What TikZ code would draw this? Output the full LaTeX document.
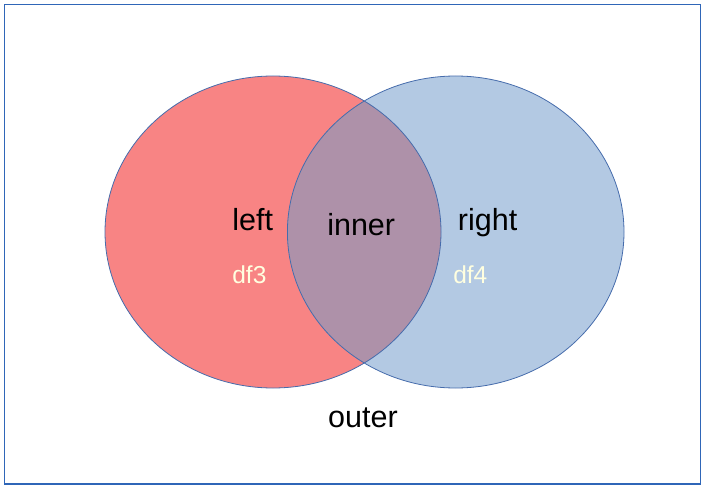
\documentclass[tikz,border=0pt]{standalone}
\usepackage{fontspec}
\setmainfont{Liberation Sans}
\definecolor{leftred}{RGB}{248,132,132}
\definecolor{rightblue}{RGB}{179,201,227}
\definecolor{innermix}{RGB}{174,145,169}
\definecolor{edgeblue}{RGB}{70,108,172}
\definecolor{framblue}{RGB}{47,102,184}
\definecolor{dfyellow}{RGB}{255,255,224}
\begin{document}
\begin{tikzpicture}[x=1pt, y=-1pt, set label/.style={anchor=base, inner sep=0pt, font=\fontsize{30.5}{30.5}\selectfont}, df label/.style={anchor=base, inner sep=0pt, text=dfyellow, font=\fontsize{24.5}{24.5}\selectfont}]
            \useasboundingbox (0,0) rectangle (706,489);
            \draw[framblue, line width=1.2pt] (4.5,4.5) rectangle (700.3,484);

              % the two sets
              \fill[leftred] (273,232) ellipse [x radius=168, y radius=156];
              \fill[rightblue] (455.7,232) ellipse [x radius=168.3, y radius=156];
              \begin{scope}
                \clip (273,232) ellipse [x radius=168, y radius=156];
                \fill[innermix] (455.7,232) ellipse [x radius=168.3, y radius=156];
              \end{scope}
              \draw[edgeblue, line width=0.8pt] (273,232) ellipse [x radius=168, y radius=156];
              \draw[edgeblue, line width=0.8pt] (455.7,232) ellipse [x radius=168.3, y radius=156];

              \node[set label] (left) at (252.7,230.7) {left};
              \node[set label] (inner) at (361.2,235) {inner};
              \node[set label] (right) at (487.6,230.7) {right};
              \node[df label] (df3) at (249.4,283.3) {df3};
              \node[df label] (df4) at (470.3,283.3) {df4};
              \node[set label] (outer) at (363,427.7) {outer};
            \end{tikzpicture}
\end{document}
